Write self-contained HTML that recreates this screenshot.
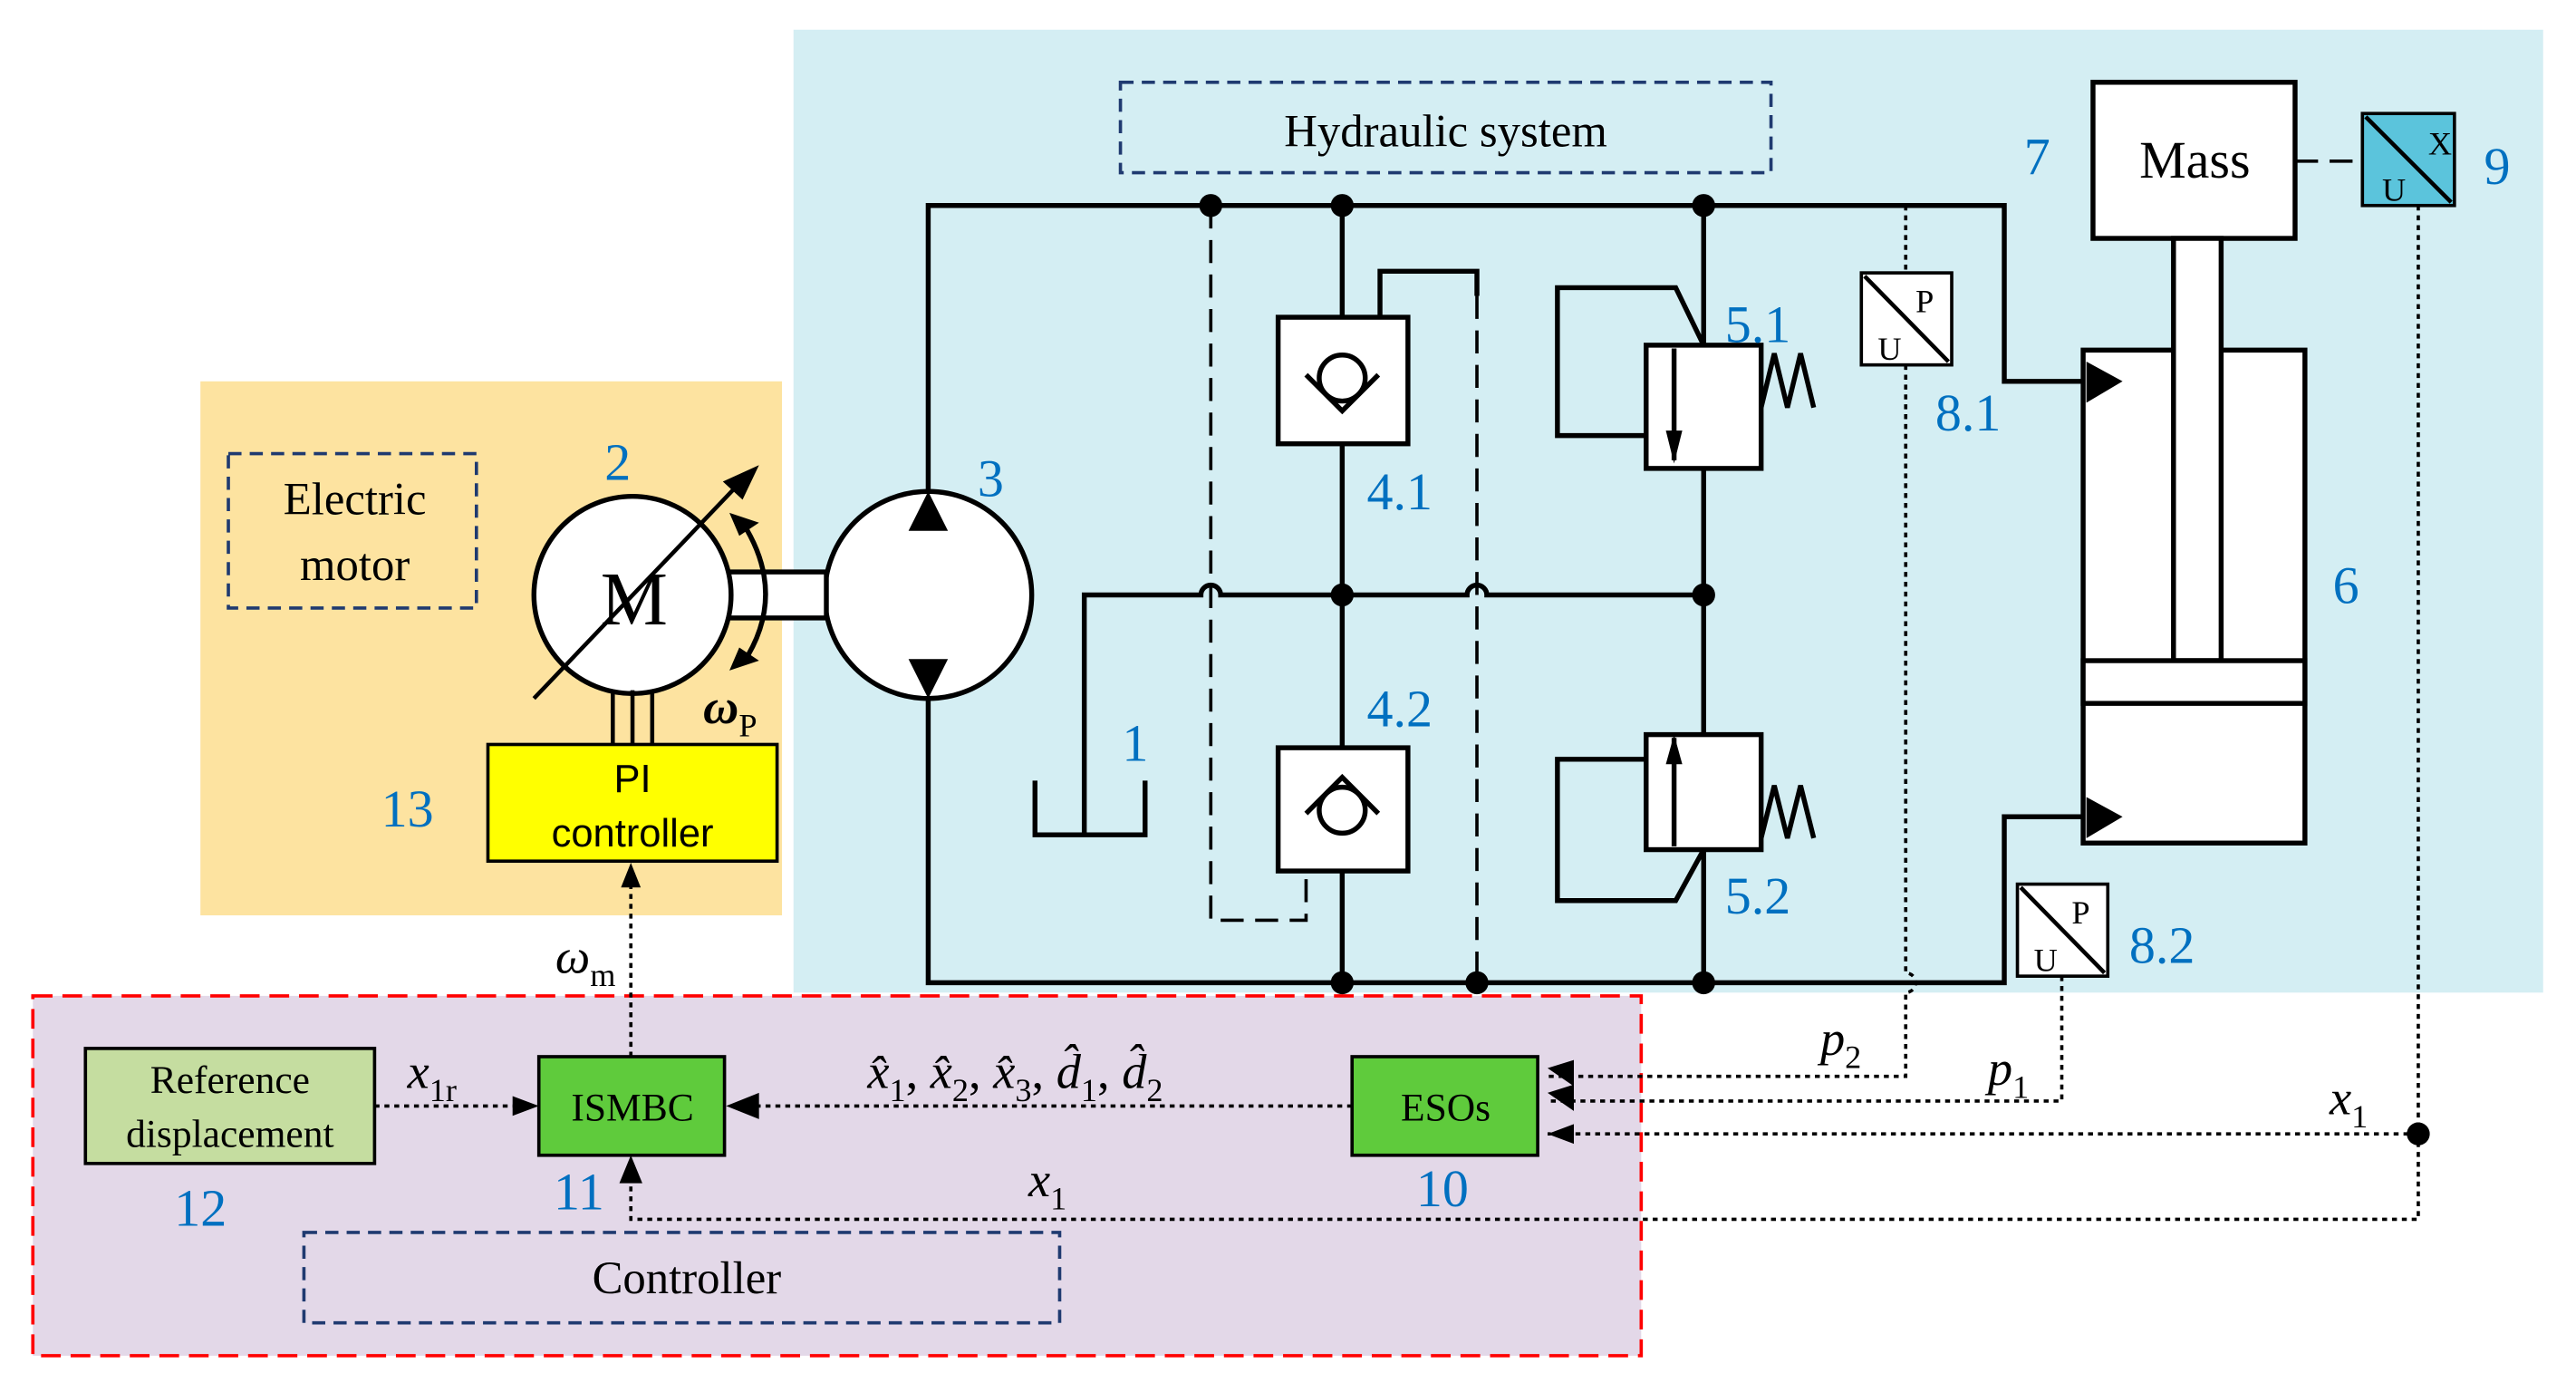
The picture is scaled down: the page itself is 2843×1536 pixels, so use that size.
<!DOCTYPE html>
<html><head><meta charset="utf-8"><style>html,body{margin:0;padding:0;background:#fff}svg{display:block}</style></head><body>
<svg width="2843" height="1536" viewBox="0 0 1568 847" xmlns="http://www.w3.org/2000/svg" font-family="Liberation Serif, serif">
<rect x="0" y="0" width="1568" height="847" fill="#fff"/>
<rect x="483" y="18" width="1065" height="586" fill="#d4eef3"/>
<rect x="122" y="232" width="354" height="325" fill="#fde3a0"/>
<rect x="20" y="606" width="979" height="219" fill="#e3d8e8" stroke="#ff0000" stroke-width="2" stroke-dasharray="12,6"/>
<g fill="none" stroke="#1f3a70" stroke-width="2" stroke-dasharray="8,5">
<rect x="682" y="50" width="396" height="55"/>
<rect x="139" y="276" width="151" height="94"/>
<rect x="185" y="750" width="460" height="55"/>
</g>
<g font-size="28" fill="#000" text-anchor="middle">
<text x="880" y="89">Hydraulic system</text>
<text x="216" y="313">Electric</text>
<text x="216" y="353">motor</text>
<text x="418" y="787">Controller</text>
</g>
<g fill="none" stroke="#000" stroke-width="3">
<path d="M565 300 V125 H1220 V232 H1268"/>
<path d="M565 420 V598 H1220 V497 H1268"/>
<path d="M660 508 V362 H731 a6 6 0 0 1 12 0 H893 a6 6 0 0 1 12 0 H1037"/>
<path d="M630 475 V508 H697 V475"/>
<path d="M817 125 V193 M817 270 V455 M817 530 V598"/>
<path d="M1037 125 V210 M1037 285 V447 M1037 517 V598"/>
<path d="M840 193 V165 H899 V180"/>
<path d="M1002 265 H948 V175 H1020 L1037 210"/>
<path d="M1002 462 H948 V548 H1020 L1037 517"/>
<path d="M1072 248 L1080 215 L1088 248 L1096 215 L1104 248" stroke-width="3"/>
<path d="M1072 510 L1080 478 L1088 510 L1096 478 L1104 510" stroke-width="3"/>
</g>
<g fill="none" stroke="#000" stroke-width="2" stroke-dasharray="14,7">
<path d="M737 125 V560 H795 V535"/>
<path d="M899 180 V598"/>
<path d="M1397 98 H1438"/>
</g>
<g stroke="#000" stroke-width="3" fill="#fff">
<rect x="778" y="193" width="79" height="77"/>
<rect x="778" y="455" width="79" height="75"/>
<circle cx="817" cy="230" r="14"/><circle cx="817" cy="493" r="14"/>
</g>
<g fill="none" stroke="#000" stroke-width="3">
<path d="M795 228 L817 250 L839 228"/><path d="M795 495 L817 473 L839 495"/>
</g>
<g stroke="#000" stroke-width="3" fill="#fff">
<rect x="1002" y="210" width="70" height="75"/>
<rect x="1002" y="447" width="70" height="70"/>
</g>
<path d="M1019 212 V280 M1019 449 V515" stroke="#000" stroke-width="3"/>
<path d="M1014 262 L1024 262 L1019 282Z M1014 465 L1024 465 L1019 447Z" fill="#000"/>
<g fill="#000">
<circle cx="737" cy="125" r="7"/><circle cx="817" cy="125" r="7"/><circle cx="1037" cy="125" r="7"/>
<circle cx="817" cy="362" r="7"/><circle cx="1037" cy="362" r="7"/>
<circle cx="817" cy="598" r="7"/><circle cx="899" cy="598" r="7"/><circle cx="1037" cy="598" r="7"/>
<circle cx="1472" cy="690" r="7"/>
</g>
<circle cx="565" cy="362" r="63" fill="#fff" stroke="#000" stroke-width="3"/>
<path d="M553 323 L577 323 L565 299Z M553 401 L577 401 L565 425Z" fill="#000"/>
<rect x="443" y="348" width="60" height="28" fill="#fff" stroke="#000" stroke-width="3"/>
<circle cx="385" cy="362" r="60" fill="#fff" stroke="#000" stroke-width="3"/>
<text x="386" y="380" font-size="46" text-anchor="middle">M</text>
<path d="M325 425 L452 292" stroke="#000" stroke-width="2.5"/>
<path d="M462 283 L440 293 L452 304Z" fill="#000"/>
<path d="M452 318 Q480 362 452 404" fill="none" stroke="#000" stroke-width="3"/>
<path d="M444 312 L462 318 L450 326Z M444 408 L462 402 L450 394Z" fill="#000"/>
<path d="M373 420 V453 M385 420 V453 M397 420 V453" stroke="#000" stroke-width="2.5"/>
<rect x="1274" y="50" width="123" height="95" fill="#fff" stroke="#000" stroke-width="3"/>
<text x="1336" y="108" font-size="32" text-anchor="middle">Mass</text>
<rect x="1268" y="213" width="135" height="300" fill="#fff" stroke="#000" stroke-width="3"/>
<rect x="1323" y="145" width="29" height="257" fill="#fff" stroke="#000" stroke-width="3"/>
<rect x="1268" y="402" width="135" height="26" fill="#fff" stroke="#000" stroke-width="3"/>
<path d="M1270 220 L1292 232 L1270 245Z M1270 485 L1292 497 L1270 510Z" fill="#000"/>
<rect x="1438" y="69" width="56" height="56" fill="#5bc4dc" stroke="#000" stroke-width="2"/>
<path d="M1440 71 L1492 123" stroke="#000" stroke-width="2.5"/>
<text x="1478" y="94" font-size="20">X</text><text x="1450" y="122" font-size="20">U</text>
<g fill="#fff" stroke="#000" stroke-width="2">
<rect x="1133" y="166" width="55" height="56"/><rect x="1228" y="538" width="55" height="56"/>
</g>
<path d="M1135 168 L1186 220 M1230 540 L1281 592" stroke="#000" stroke-width="2.5"/>
<g font-size="20"><text x="1166" y="190">P</text><text x="1143" y="219">U</text>
<text x="1261" y="562">P</text><text x="1238" y="591">U</text></g>
<g fill="none" stroke="#000" stroke-width="2" stroke-dasharray="3,3">
<path d="M1160 125 V166 M1160 222 V592 a6 6 0 0 1 0 12 V655 H942"/>
<path d="M1255 594 V670 H942"/>
<path d="M1472 125 V742 H384 V712"/>
<path d="M1472 690 H942"/>
<path d="M823 673 H452"/>
<path d="M228 673 H318"/>
<path d="M384 643 V534"/>
</g>
<g fill="#000">
<path d="M942 650 L958 645 L958 661 Z M942 665 L958 660 L958 676Z M942 690 L958 684 L958 696Z"/>
<path d="M442 673 L462 665 L462 681Z M328 673 L312 667 L312 679Z M384 525 L378 540 L390 540Z M384 703 L377 720 L391 720Z"/>
</g>
<rect x="52" y="638" width="176" height="70" fill="#c5dda0" stroke="#000" stroke-width="2"/>
<text x="140" y="665" font-size="24" text-anchor="middle">Reference</text>
<text x="140" y="698" font-size="24" text-anchor="middle">displacement</text>
<rect x="328" y="643" width="113" height="60" fill="#5fcb3c" stroke="#000" stroke-width="2"/>
<text x="385" y="682" font-size="24" text-anchor="middle">ISMBC</text>
<rect x="823" y="643" width="113" height="60" fill="#5fcb3c" stroke="#000" stroke-width="2"/>
<text x="880" y="682" font-size="24" text-anchor="middle">ESOs</text>
<rect x="297" y="453" width="176" height="71" fill="#ffff00" stroke="#000" stroke-width="2"/>
<text x="385" y="482" font-size="24" text-anchor="middle" font-family="Liberation Sans, sans-serif">PI</text>
<text x="385" y="515" font-size="24" text-anchor="middle" font-family="Liberation Sans, sans-serif">controller</text>
<g font-size="30" font-style="italic">
<text x="248" y="662">x<tspan font-size="20" dy="8" font-style="normal">1r</tspan></text>
<text x="338" y="592">ω<tspan font-size="20" dy="8" font-style="normal">m</tspan></text>
<text x="428" y="440" font-weight="bold">ω<tspan font-size="20" dy="8" font-style="normal" font-weight="normal">P</tspan></text>
<text x="528" y="662">x̂<tspan font-size="20" dy="8" font-style="normal">1</tspan><tspan dy="-8" font-style="normal">, </tspan>x̂<tspan font-size="20" dy="8" font-style="normal">2</tspan><tspan dy="-8" font-style="normal">, </tspan>x̂<tspan font-size="20" dy="8" font-style="normal">3</tspan><tspan dy="-8" font-style="normal">, </tspan>d̂<tspan font-size="20" dy="8" font-style="normal">1</tspan><tspan dy="-8" font-style="normal">, </tspan>d̂<tspan font-size="20" dy="8" font-style="normal">2</tspan></text>
<text x="626" y="728">x<tspan font-size="20" dy="8" font-style="normal">1</tspan></text>
<text x="1108" y="642">p<tspan font-size="20" dy="8" font-style="normal">2</tspan></text>
<text x="1210" y="660">p<tspan font-size="20" dy="8" font-style="normal">1</tspan></text>
<text x="1418" y="678">x<tspan font-size="20" dy="8" font-style="normal">1</tspan></text>
</g>
<g font-size="32" fill="#0070c0">
<text x="368" y="292">2</text><text x="595" y="302">3</text><text x="683" y="463">1</text>
<text x="832" y="310">4.1</text><text x="832" y="442">4.2</text>
<text x="1050" y="208">5.1</text><text x="1050" y="556">5.2</text>
<text x="1420" y="367">6</text><text x="1232" y="106">7</text>
<text x="1178" y="262">8.1</text><text x="1296" y="586">8.2</text><text x="1512" y="112">9</text>
<text x="862" y="734">10</text><text x="337" y="736">11</text><text x="106" y="746">12</text><text x="232" y="503">13</text>
</g>
</svg>
</body></html>
